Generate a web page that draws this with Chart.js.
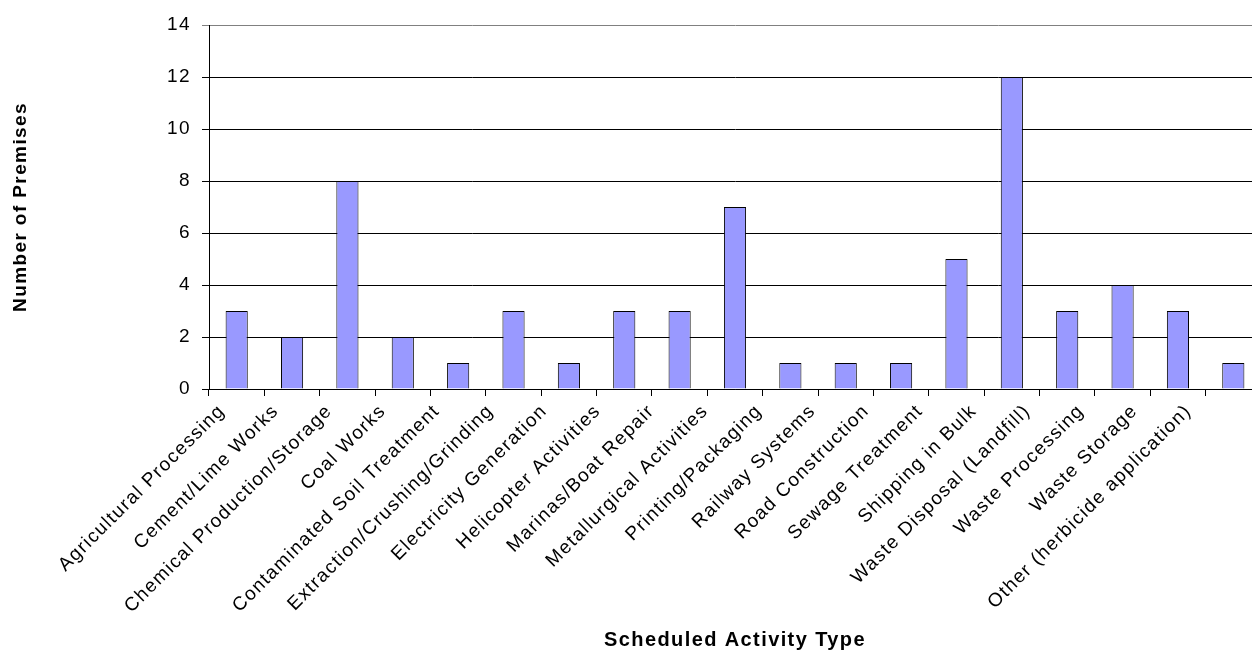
<!DOCTYPE html>
<html>
<head>
<meta charset="utf-8">
<script src="https://cdn.jsdelivr.net/npm/chart.js@4/dist/chart.umd.min.js"></script>
<style>
  html, body { margin: 0; padding: 0; background: #fff; overflow: hidden; }
  #wrap { width: 1270px; height: 652px; }
</style>
</head>
<body>
<div id="wrap"><canvas id="chart" width="1270" height="652"></canvas></div>
<script>
// Scheduled activity types and the number of premises in each
const categories = [
  'Agricultural Processing',
  'Cement/Lime Works',
  'Chemical Production/Storage',
  'Coal Works',
  'Contaminated Soil Treatment',
  'Extraction/Crushing/Grinding',
  'Electricity Generation',
  'Helicopter Activities',
  'Marinas/Boat Repair',
  'Metallurgical Activities',
  'Printing/Packaging',
  'Railway Systems',
  'Road Construction',
  'Sewage Treatment',
  'Shipping in Bulk',
  'Waste Disposal (Landfill)',
  'Waste Processing',
  'Waste Storage',
  'Other (herbicide application)'
];
const premises = [3, 2, 8, 2, 1, 3, 1, 3, 3, 7, 1, 1, 1, 5, 12, 3, 4, 3, 1];
const yTicks = [0, 2, 4, 6, 8, 10, 12, 14];

const FONT = "'Liberation Sans', Arial, Helvetica, sans-serif";
const PLOT_LEFT = 209, PLOT_BOTTOM = 389, TICK_LEN = 7, CANVAS_H = 652;

// Slightly loose text tracking, applied before measuring and drawing
const tracking = {
  id: 'tracking',
  beforeLayout: (chart) => { chart.ctx.letterSpacing = '1.4px'; },
  beforeDraw: (chart) => { chart.ctx.letterSpacing = '1.4px'; }
};

new Chart(document.getElementById('chart'), {
  type: 'bar',
  data: {
    labels: categories,
    datasets: [{
      data: premises,
      backgroundColor: '#9999FF',
      borderColor: '#000000',
      borderWidth: 1,
      categoryPercentage: 1.0,
      barPercentage: 0.4
    }]
  },
  plugins: [tracking],
  options: {
    responsive: false,
    animation: false,
    layout: { padding: { left: 0, top: 25, right: 9, bottom: 0 } },
    plugins: { legend: { display: false }, tooltip: { enabled: false } },
    scales: {
      // category axis carrying the bars and the tick marks between them
      x: {
        weight: 0,
        grid: { display: true, drawOnChartArea: false, drawTicks: true, tickLength: TICK_LEN, color: '#000', offset: true },
        border: { display: true, color: '#000', width: 1 },
        ticks: { display: false },
        afterFit: (s) => { s.height = TICK_LEN; }
      },
      // label axis: one rotated label per category
      xLabels: {
        type: 'linear',
        position: 'bottom',
        weight: 1,
        offset: false,
        min: -0.242,
        max: 19.35,
        afterBuildTicks: (s) => { s.ticks = categories.map((c, i) => ({ value: i })); },
        grid: { display: false, drawTicks: false, offset: false },
        border: { display: false },
        ticks: {
          autoSkip: false, minRotation: 45, maxRotation: 45,
          color: '#000', font: { family: FONT, size: 19 }, padding: 4,
          callback: (v) => categories[v]
        },
        title: {
          display: true, text: 'Scheduled Activity Type', color: '#000',
          font: { family: FONT, size: 20, weight: 'bold', lineHeight: 1.2 },
          padding: { top: 0, bottom: 0 }
        },
        afterFit: (s) => { s.height = CANVAS_H - PLOT_BOTTOM - TICK_LEN; }
      },
      y: {
        min: 0, max: 14,
        afterBuildTicks: (s) => { s.ticks = yTicks.map(v => ({ value: v })); },
        grid: {
          color: (c) => (c.tick && c.tick.value === 14 ? '#808080' : '#000'),
          lineWidth: 1, tickLength: TICK_LEN, drawTicks: true
        },
        border: { display: true, color: '#000', width: 1 },
        ticks: { color: '#000', font: { family: FONT, size: 19 }, padding: 11 },
        title: {
          display: true, text: 'Number of Premises', color: '#000',
          font: { family: FONT, size: 19, weight: 'bold', lineHeight: 1.2 },
          padding: { top: 9, bottom: 0 }
        },
        afterFit: (s) => { s.width = PLOT_LEFT; }
      }
    }
  }
});
</script>
</body>
</html>
